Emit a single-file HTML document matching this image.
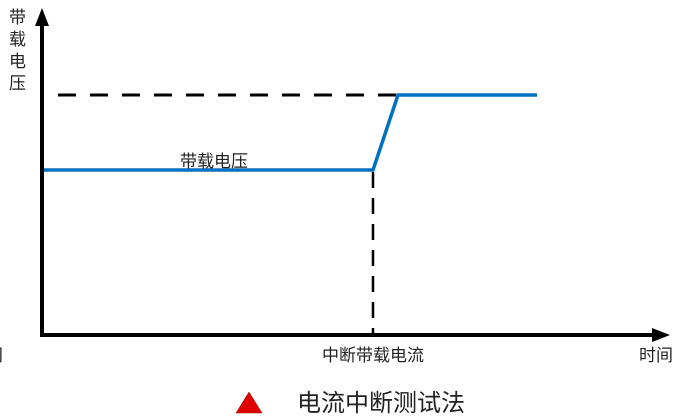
<!DOCTYPE html>
<html><head><meta charset="utf-8"><style>
body{margin:0;background:#fff;}
svg text{font-family:"Liberation Sans","Noto Sans CJK SC",sans-serif;fill:#222;}
</style></head><body>
<svg width="676" height="415" viewBox="0 0 676 415" xmlns="http://www.w3.org/2000/svg">
<line x1="58" y1="95" x2="398" y2="95" stroke="#000" stroke-width="3" stroke-dasharray="18,14"/>
<line x1="373" y1="172" x2="373" y2="335" stroke="#000" stroke-width="2.5" stroke-dasharray="16,10"/>
<polyline points="42,170 373,170 398,95 537,95" fill="none" stroke="#0070C0" stroke-width="3.5"/>
<line x1="42" y1="24" x2="42" y2="335" stroke="#000" stroke-width="4"/>
<polygon points="42,8 35,26 49,26" fill="#000"/>
<line x1="40" y1="335" x2="656" y2="335" stroke="#000" stroke-width="4"/>
<polygon points="670,335 652,328 652,342" fill="#000"/>
<text x="9" y="23" font-size="17">带</text>
<text x="9" y="45" font-size="17">载</text>
<text x="9" y="67" font-size="17">电</text>
<text x="9" y="89" font-size="17">压</text>
<text x="180" y="167" font-size="17">带载电压</text>
<text x="373" y="361" font-size="17" text-anchor="middle">中断带载电流</text>
<text x="639" y="361" font-size="17">时间</text>
<text x="-31" y="361" font-size="17">时间</text>
<polygon points="249,392 236,413 262,413" fill="#e00000" stroke="#900" stroke-width="0.5"/>
<text x="297" y="411" font-size="24">电流中断测试法</text>
</svg>
</body></html>
